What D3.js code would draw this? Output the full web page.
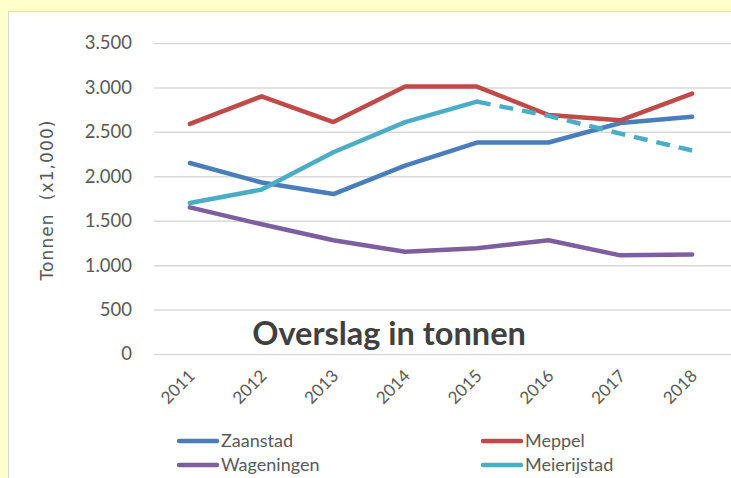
<!DOCTYPE html>
<html>
<head>
<meta charset="utf-8">
<script src="https://cdn.jsdelivr.net/npm/d3@7"></script>
<style>
  html, body { margin: 0; padding: 0; background: #ffffcc; }
  svg { display: block; }
  .tick text { fill: #595959; }
</style>
</head>
<body>
<div id="chart"></div>
<script>
// overslag per haven, x1000 ton
const years = ['2011', '2012', '2013', '2014', '2015', '2016', '2017', '2018']
const zaanstad = [2150, 1930, 1800, 2120, 2380, 2380, 2600, 2670]
const meppel = [2590, 2900, 2610, 3010, 3010, 2690, 2630, 2930]
const wageningen = [1650, 1460, 1280, 1150, 1190, 1280, 1110, 1120]
const meierijstad = [1700, 1850, 2270, 2610, 2840, null, null, null]
const meierijstadPrognose = [null, null, null, null, 2840, 2680, 2480, 2290]
const yTicks = [0, 500, 1000, 1500, 2000, 2500, 3000, 3500]

const series = [
  { name: 'Zaanstad', values: zaanstad, color: '#4a7ebb' },
  { name: 'Meppel', values: meppel, color: '#be4b48' },
  { name: 'Wageningen', values: wageningen, color: '#7d5fa0' },
  { name: 'Meierijstad', values: meierijstad, color: '#4bacc6' },
  { name: 'Meierijstad prognose', values: meierijstadPrognose, color: '#4bacc6', dash: '14,9', legend: false }
]

const width = 731
const height = 478
const margin = { top: 43, right: 3, bottom: 124, left: 154 }

const svg = d3.select('#chart').append('svg')
  .attr('width', width)
  .attr('height', height)

// white chart box
svg.append('rect')
  .attr('x', 8.5).attr('y', 11.5)
  .attr('width', width).attr('height', height)
  .attr('fill', '#fff')
  .attr('stroke', '#d9d9d9')

const x = d3.scaleBand()
  .domain(years)
  .range([margin.left, width - margin.right])

const y = d3.scaleLinear()
  .domain([0, 3500])
  .range([height - margin.bottom, margin.top])

const fmt = d3.format(',')
const nl = (d) => fmt(d).replace(/,/g, '.')

// gridlines + y labels
const yAxis = svg.append('g')
  .attr('transform', 'translate(' + margin.left + ',0)')
  .call(d3.axisLeft(y).tickValues(yTicks).tickFormat(nl)
    .tickSize(-(width - margin.left)).tickPadding(22))
yAxis.select('.domain').remove()
yAxis.selectAll('.tick line').attr('stroke', '#d9d9d9').attr('stroke-width', 1.5)
yAxis.selectAll('.tick text')
  .style('font-family', 'Lato, "Open Sans", sans-serif')
  .style('font-size', '18.5px')

// x labels, rotated
const xAxis = svg.append('g')
  .attr('transform', 'translate(0,' + (height - margin.bottom) + ')')
  .call(d3.axisBottom(x).tickSize(0).tickPadding(0))
xAxis.select('.domain').remove()
xAxis.selectAll('.tick text')
  .style('font-family', 'Lato, "Open Sans", sans-serif')
  .style('font-size', '17px')
  .attr('text-anchor', 'end')
  .attr('y', 0)
  .attr('dy', null)
  .attr('transform', 'translate(6,23) rotate(-45)')

const line = d3.line()
  .defined((d) => d != null)
  .x((d, i) => x(years[i]) + x.bandwidth() / 2)
  .y((d) => y(d))

svg.append('g').selectAll('path')
  .data(series)
  .join('path')
    .attr('d', (s) => line(s.values))
    .attr('fill', 'none')
    .attr('stroke', (s) => s.color)
    .attr('stroke-width', 4.5)
    .attr('stroke-linejoin', 'round')
    .attr('stroke-linecap', (s) => s.dash ? 'butt' : 'round')
    .attr('stroke-dasharray', (s) => s.dash || null)

// title sits inside the plot
svg.append('text')
  .attr('x', 389)
  .attr('y', 345)
  .attr('text-anchor', 'middle')
  .style('font-family', 'Lato, "Open Sans", sans-serif')
  .style('font-weight', 'bold')
  .style('font-size', '32.5px')
  .attr('fill', '#404040')
  .text('Overslag in tonnen')

svg.append('text')
  .attr('transform', 'translate(53,200) rotate(-90)')
  .attr('text-anchor', 'middle')
  .style('font-family', '"DejaVu Sans", sans-serif')
  .style('font-size', '17px')
  .style('letter-spacing', '1.1px')
  .style('white-space', 'pre')
  .attr('fill', '#595959')
  .text('Tonnen  (x1,000)')

// legend, two columns
const legendItems = series.filter((s) => s.legend !== false)
const lg = svg.append('g').selectAll('g')
  .data(legendItems)
  .join('g')
    .attr('transform', (s, i) => 'translate(' + (i % 2 ? 483 : 179) + ',' + (441 + Math.floor(i / 2) * 24) + ')')

lg.append('line')
  .attr('x1', 0).attr('x2', 38)
  .attr('stroke', (s) => s.color)
  .attr('stroke-width', 4.5)
  .attr('stroke-linecap', 'round')

lg.append('text')
  .attr('x', 42)
  .attr('dy', '0.35em')
  .style('font-family', 'Lato, "Open Sans", sans-serif')
  .style('font-size', '18px')
  .attr('fill', '#595959')
  .text((s) => s.name)
</script>
</body>
</html>
